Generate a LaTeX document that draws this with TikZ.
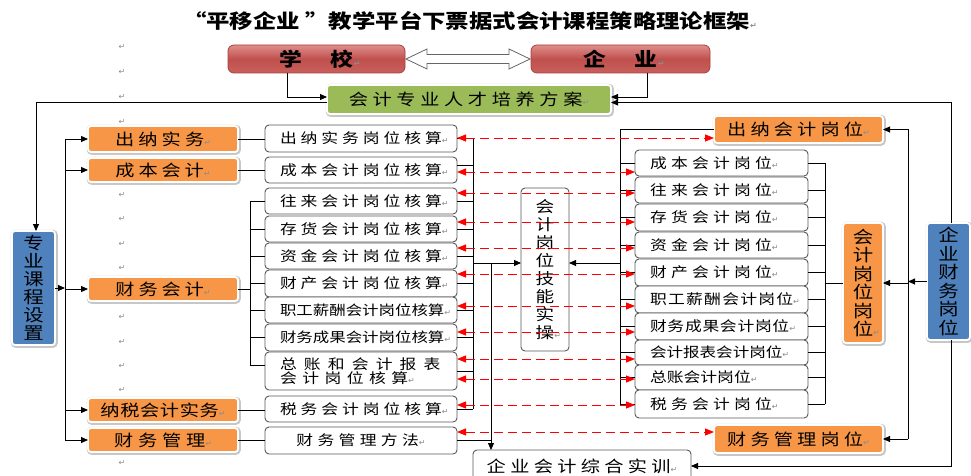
\documentclass[tikz,border=0pt]{standalone}
\usepackage{fontspec}
\setmainfont{Noto Sans CJK SC}[FakeStretch=1.2]
\newfontfamily\djvfont{DejaVu Sans}
\usetikzlibrary{arrows.meta,calc}
\definecolor{org}{HTML}{F79646}
\definecolor{blu}{HTML}{4F81BD}
\definecolor{grn}{HTML}{9BBB59}
\definecolor{rdl}{HTML}{FF0000}
\definecolor{rtop}{HTML}{DE8E8C}
\definecolor{rmid}{HTML}{C0504D}
\definecolor{rbot}{HTML}{C8605D}
\definecolor{rdraw}{HTML}{A8403D}
\newcommand\myrt{{\djvfont\fontsize{8}{8}\selectfont\textcolor{black!45}{↵}}}
\newcommand\myls[1]{\addfontfeature{LetterSpace=#1}}
\newcommand\myfs[1]{\fontsize{#1}{#1}\selectfont}
\newcommand\mybx[7]{\node[#2, minimum width={(#5)-(#3)}, minimum height={(#6)-(#4)}] (#1) at ({((#3)+(#5))/2},{((#4)+(#6))/2}) {#7};}
\begin{document}
\begin{tikzpicture}[x=1pt,y=-1pt,
 every node/.style={inner sep=0pt,outer sep=0pt},
 wbox/.style={draw=black!65,line width=0.9pt,rounded corners=4pt,fill=white,font=\myfs{14}\myls{28}},
 mbox/.style={wbox,text width=162pt,inner xsep=15pt,align=left},
 rbx/.style={wbox,text width=143pt,inner xsep=15pt,align=left},
 glow/.style={preaction={draw=black!22,line width=4pt,transform canvas={shift={(0.8pt,-0.8pt)}}},draw=white,line width=1.8pt,rounded corners=3pt},
 obox/.style={glow,fill=org,font=\myfs{16}\myls{26}},
 bbox/.style={glow,fill=blu,align=center},
 gbox/.style={glow,fill=grn,font=\myfs{16}\myls{29}},
 redbox/.style={rounded corners=6pt,draw=rdraw,line width=0.8pt,top color=rtop,bottom color=rbot,middle color=rmid,font=\bfseries\myfs{19}},
 ln/.style={line width=0.9pt,draw=black},
 arr/.style={ln,-{Triangle[length=7pt,width=6pt]}},
 rd/.style={draw=rdl,line width=0.9pt,dash pattern=on 9pt off 5pt,{Triangle[length=9pt,width=7pt]}-{Triangle[length=9pt,width=7pt]}}]
\useasboundingbox (0,0) rectangle (971,476);
\fill[white] (0,0) rectangle (971,476);
\clip (0,0) rectangle (971,476);

% title
\node[font=\bfseries\myfs{19.5}] (title) at (470,21) {“平移企业 ”教学平台下票据式会计课程策略理论框架\myrt};

% top boxes
\mybx{school}{redbox}{228}{45}{405}{73}{学\hspace{29pt}校\rlap{\myrt}}
\mybx{ent}{redbox}{531}{45}{710}{73}{企\hspace{29pt}业\rlap{\myrt}}
\mybx{plan}{gbox}{327}{85}{611}{114}{会计专业人才培养方案\myrt}

% left blue
\mybx{kc}{bbox,font=\fontsize{17}{18}\selectfont}{12}{231}{55}{345}{专\\业\\课\\程\\设\\置}

% left orange column
\mybx{o1}{obox,font=\myfs{16}\myls{26}}{88}{126}{238}{152}{出纳实务\myrt}
\mybx{o2}{obox,font=\myfs{16}\myls{24}}{88}{158}{238}{182}{成本会计\myrt}
\mybx{o3}{obox,font=\myfs{16}\myls{24}}{88}{277}{238}{301}{财务会计\myrt}
\mybx{o4}{obox,font=\myfs{16}\myls{4}}{88}{398}{238}{422}{纳税会计实务\myrt}
\mybx{o5}{obox,font=\myfs{16}\myls{30}}{88}{428}{238}{452}{财务管理\myrt}

% middle-left white column
\mybx{m1}{mbox}{265}{125}{457}{152}{出纳实务岗位核算\myrt}
\mybx{m2}{mbox}{265}{157}{457}{183}{成本会计岗位核算\myrt}
\mybx{m3}{mbox}{265}{188}{457}{214}{往来会计岗位核算\myrt}
\mybx{m4}{mbox}{265}{216}{457}{242}{存货会计岗位核算\myrt}
\mybx{m5}{mbox}{265}{243}{457}{269}{资金会计岗位核算\myrt}
\mybx{m6}{mbox}{265}{270}{457}{297}{财产会计岗位核算\myrt}
\mybx{m7}{mbox,font=\myfs{13.7}\myls{0}}{265}{297}{457}{323}{职工薪酬会计岗位核算\myrt}
\mybx{m8}{mbox,font=\myfs{13.7}\myls{0}}{265}{324}{457}{351}{财务成果会计岗位核算\myrt}
\mybx{m9}{mbox,font=\myfs{14}}{265}{352}{457}{390}{{\myls{51}总账和会计报表}\\{\myls{39}会计岗位核算\myrt}}
\mybx{m10}{mbox}{265}{396}{457}{422}{税务会计岗位核算\myrt}
\mybx{m11}{mbox,align=center,font=\myfs{14}\myls{31}}{265}{427}{457}{454}{财务管理方法\myrt}

% centre
\mybx{sk}{wbox,align=center,font=\fontsize{15.5}{18}\selectfont}{521}{188}{569}{351}{会\\计\\岗\\位\\技\\能\\实\\操\rlap{\myrt}}
\mybx{zh}{wbox,font=\myfs{16}\myls{27}}{473}{450}{691}{482}{企业会计综合实训\myrt}

% right white column
\mybx{r1}{rbx,font=\myfs{14}\myls{30}}{635}{150}{808}{176}{成本会计岗位\myrt}
\mybx{r2}{rbx,font=\myfs{14}\myls{30}}{635}{177}{808}{203}{往来会计岗位\myrt}
\mybx{r3}{rbx,font=\myfs{14}\myls{30}}{635}{204}{808}{231}{存货会计岗位\myrt}
\mybx{r4}{rbx,font=\myfs{14}\myls{30}}{635}{232}{808}{258}{资金会计岗位\myrt}
\mybx{r5}{rbx,font=\myfs{14}\myls{30}}{635}{259}{808}{286}{财产会计岗位\myrt}
\mybx{r6}{rbx,font=\myfs{14}\myls{9}}{635}{286}{808}{313}{职工薪酬会计岗位\myrt}
\mybx{r7}{rbx,font=\myfs{14}\myls{5}}{635}{313}{808}{340}{财务成果会计岗位\myrt}
\mybx{r8}{rbx,font=\myfs{13.8}\myls{0}}{635}{340}{808}{365}{会计报表会计岗位\myrt}
\mybx{r9}{rbx,font=\myfs{14}\myls{0}}{635}{365}{808}{390}{总账会计岗位\myrt}
\mybx{r10}{rbx,font=\myfs{14}\myls{30}}{635}{390}{808}{418}{税务会计岗位\myrt}

% right orange / blue
\mybx{rc1}{obox,font=\myfs{16}\myls{26}}{714}{116}{883}{143}{出纳会计岗位\myrt}
\mybx{rc2}{obox,font=\myfs{16}\myls{26}}{714}{425}{883}{453}{财务管理岗位\myrt}
\mybx{rv}{obox,align=center,font=\fontsize{17}{18.5}\selectfont}{843}{223}{883}{343}{会\\计\\岗\\位\\岗\\位\rlap{\myrt}}
\mybx{qy}{bbox,font=\fontsize{17}{18.5}\selectfont}{927}{223}{970}{340}{企\\业\\财\\务\\岗\\位}

% paragraph marks
\foreach \y [count=\i] in {47,72,97,122,195,219,244,268,317,342,366,390,463}
  \node (pm\i) at (122,\y) {\myrt};

% bus coordinates
\coordinate (lb) at (65,0);
\coordinate (mb) at (250,0);
\coordinate (mr) at (473,0);
\coordinate (cx) at (491,0);
\coordinate (rb) at (620,0);
\coordinate (rr) at (825,0);
\coordinate (qv) at (908,0);

% hollow double arrow school <-> enterprise
\draw[draw=black!60,fill=white,line width=0.8pt]
  ($(school.east)+(1,0)$) -- ($(school.east)+(22,-10)$) -- ($(school.east)+(22,-4.5)$)
  -- ($(ent.west)+(-22,-4.5)$) -- ($(ent.west)+(-22,-10)$) -- ($(ent.west)+(-1,0)$)
  -- ($(ent.west)+(-22,10)$) -- ($(ent.west)+(-22,4.5)$) -- ($(school.east)+(22,4.5)$)
  -- ($(school.east)+(22,10)$) -- cycle;

% top connectors
\draw[arr] ([xshift=-29.5pt]school.south) |- ([yshift=2.5pt]plan.west);
\draw[arr] ([xshift=26.5pt]ent.south) |- ([yshift=2.5pt]plan.east);
\draw[arr] ([xshift=2.5pt]qy.north) |- ([yshift=-3pt]plan.east);
\draw[arr] ([yshift=-3pt]plan.west) -| ([xshift=2.5pt]kc.north);

% left bus
\draw[arr] (kc.east) -- (kc.east -| lb);
\draw[ln] (o1.west -| lb) -- (o5.west -| lb);
\foreach \n in {o1,o2,o3,o4,o5} \draw[arr] (\n.west -| lb) -- (\n.west);
\draw[ln] (o1.east) -- (o1.east -| m1.west);
\draw[ln] (o2.east) -- (o2.east -| m2.west);
\draw[ln] (o3.east) -- (o3.east -| mb);
\draw[ln] (m3.west -| mb) -- ([yshift=6pt]m9.west -| mb);
\foreach \n in {m3,m4,m5,m6,m7,m8} \draw[ln] (\n.west -| mb) -- (\n.west);
\draw[ln] ([yshift=6pt]m9.west -| mb) -- ([yshift=6pt]m9.west);
\draw[ln] (o4.east) -- (o4.east -| m10.west);
\draw[ln] (o5.east) -- (o5.east -| m11.west);

% middle right bus
\draw[ln] (m1.east -| mr) -- (m10.east -| mr);
\foreach \n in {m1,m3,m4,m5,m6,m7,m8,m9,m10} \draw[ln] (\n.east) -- (\n.east -| mr);
\draw[ln] ([yshift=5pt]m2.east) -- ([yshift=5pt]m2.east -| mr);
\draw[arr] ([yshift=6.5pt]sk.west -| mr) -- ([yshift=6.5pt]sk.west);
\draw[arr] ([yshift=6.5pt]sk.west -| cx) -- (cx |- zh.north);
\draw[ln] (m11.east) -- (m11.east -| cx);

% right column buses
\draw[ln] (rc1.west) -- (rc1.west -| rb) -- (r10.west -| rb);
\foreach \n in {r1,r2,r3,r4,r5,r6,r7,r8,r9,r10} \draw[ln] (\n.west -| rb) -- (\n.west);
\draw[arr] ([yshift=6.5pt]sk.east -| rb) -- ([yshift=6.5pt]sk.east);
\draw[ln] (r1.east -| rr) -- (r10.east -| rr);
\foreach \n in {r1,r2,r3,r4,r5,r6,r7,r8,r9,r10} \draw[ln] (\n.east) -- (\n.east -| rr);
\draw[ln] (rr |- rv.west) -- (rv.west);

% enterprise finance posts
\draw[arr] (qy.west) -- (qy.west -| qv);
\draw[ln] (qv |- rc1.east) -- (qv |- rc2.east);
\draw[arr] (qv |- rv.east) -- (rv.east);
\draw[arr] (qv |- rc1.east) -- (rc1.east);
\draw[arr] (qv |- rc2.east) -- (rc2.east);
\draw[arr] ([xshift=2.5pt]qy.south) |- (zh.east);

% red dashed links
\foreach \a/\b/\y in {m1/rc1/138,m2/r1/172,m3/r2/193,m4/r3/222,m5/r4/248,m6/r5/274,m7/r6/306,m8/r7/332,m9/r8/359,m9/r9/379,m10/r10/405,m11/rc2/432}
  \draw[rd] (\a.east |- 0,\y) -- (\b.west |- 0,\y);
\end{tikzpicture}
\end{document}
